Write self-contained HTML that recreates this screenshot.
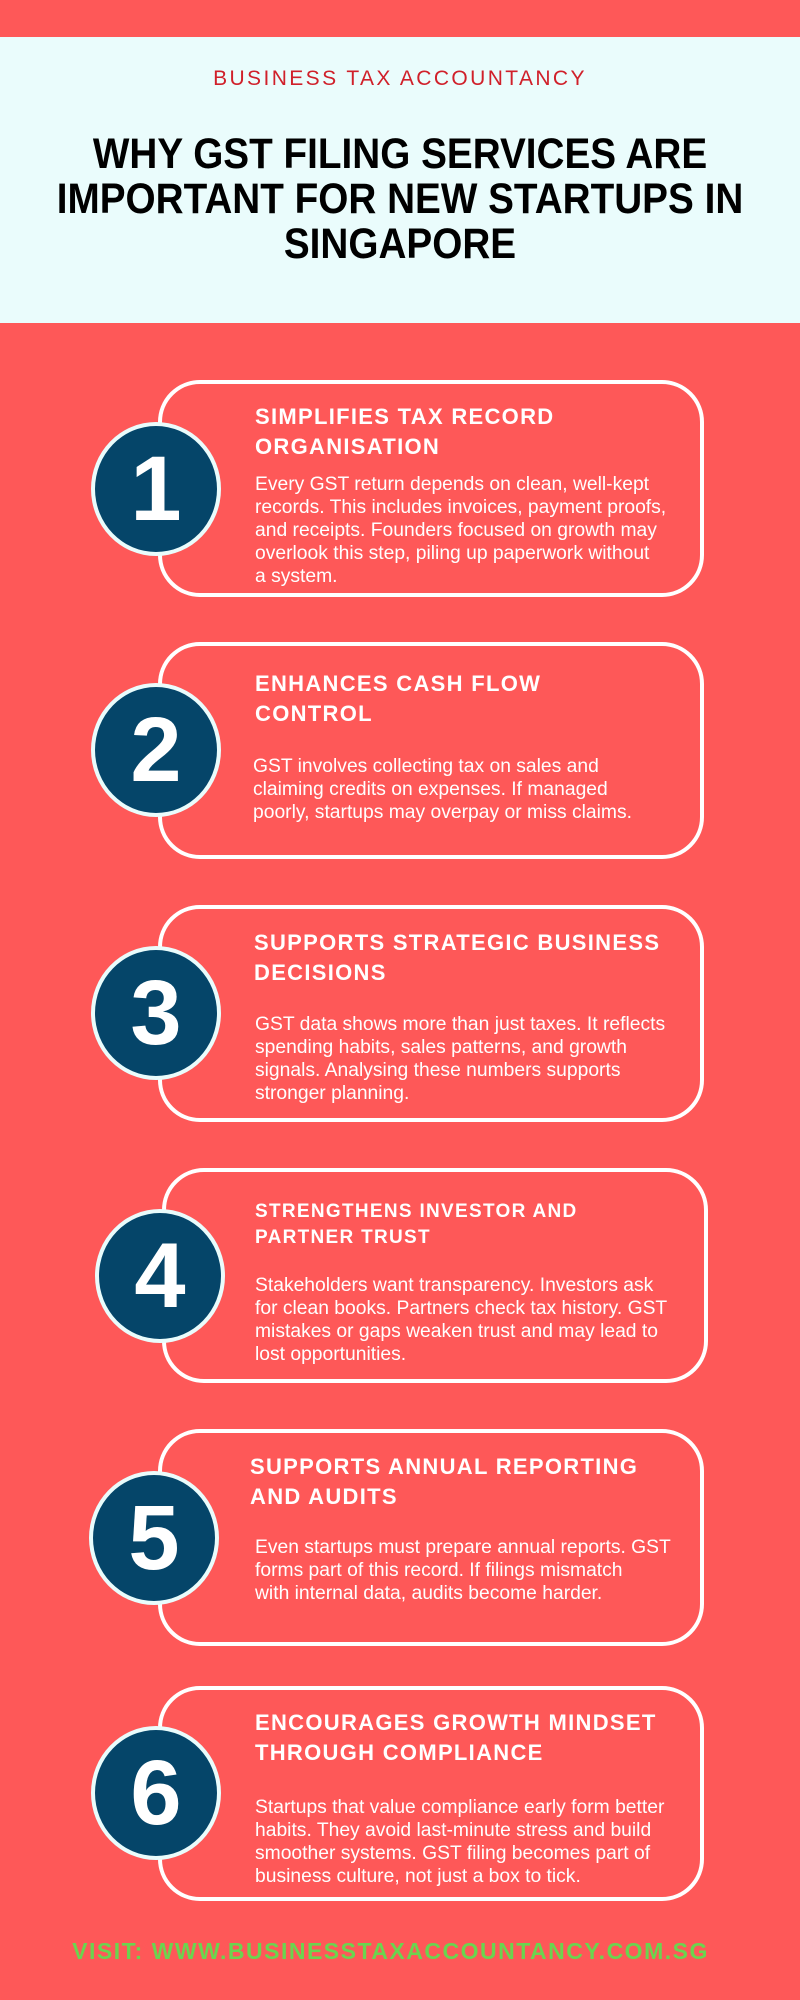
<!DOCTYPE html>
<html><head><meta charset="utf-8"><style>
*{margin:0;padding:0;box-sizing:border-box}
body{width:800px;height:2000px;background:#fe5858;position:relative;overflow:hidden;font-family:"Liberation Sans",sans-serif}
.band{position:absolute;left:0;top:37px;width:800px;height:286px;background:#eafcfc}
.sub{position:absolute;top:66px;left:0;width:800px;text-align:center;color:#d0202a;font-size:21px;letter-spacing:2.4px;line-height:26px}
.title{position:absolute;top:132px;left:0;width:800px;text-align:center;font-weight:bold;font-size:43px;line-height:45px;color:#000;transform:scaleX(0.9);transform-origin:400px 0}
.card{position:absolute;left:158px;width:546px;height:217px;border:4px solid #fff;border-radius:42px}
.circ{position:absolute;width:130px;height:134px;margin-left:-65px;margin-top:-67px;border-radius:50%;background:#054569;border:4px solid #eafcfc;color:#fff;font-size:92px;font-weight:bold;text-align:center;line-height:126px}
.h{position:absolute;left:255px;color:#fff;font-weight:bold;font-size:22px;letter-spacing:1.3px;line-height:30px;white-space:nowrap}
.b{position:absolute;left:255px;color:#fff;font-size:19.3px;line-height:23px;white-space:nowrap}
.foot{position:absolute;top:1937px;left:70px;width:641px;text-align:center;color:#6bd44f;font-weight:bold;font-size:23px;letter-spacing:1.5px;line-height:28px;white-space:nowrap}
</style></head><body>
<div class="band"></div>
<div class="sub">BUSINESS TAX ACCOUNTANCY</div>
<div class="title">WHY GST FILING SERVICES ARE<br>IMPORTANT FOR NEW STARTUPS IN<br>SINGAPORE</div>

<div class="card" style="top:380px"></div>
<div class="circ" style="left:156px;top:489px">1</div>
<div class="h" style="top:402px">SIMPLIFIES TAX RECORD<br>ORGANISATION</div>
<div class="b" style="top:473px">Every GST return depends on clean, well-kept<br>records. This includes invoices, payment proofs,<br>and receipts. Founders focused on growth may<br>overlook this step, piling up paperwork without<br>a system.</div>

<div class="card" style="top:642px"></div>
<div class="circ" style="left:156px;top:750px">2</div>
<div class="h" style="top:669px">ENHANCES CASH FLOW<br>CONTROL</div>
<div class="b" style="top:755px;left:253px">GST involves collecting tax on sales and<br>claiming credits on expenses. If managed<br>poorly, startups may overpay or miss claims.</div>

<div class="card" style="top:905px"></div>
<div class="circ" style="left:156px;top:1013px">3</div>
<div class="h" style="top:928px;left:254px">SUPPORTS STRATEGIC BUSINESS<br>DECISIONS</div>
<div class="b" style="top:1013px">GST data shows more than just taxes. It reflects<br>spending habits, sales patterns, and growth<br>signals. Analysing these numbers supports<br>stronger planning.</div>

<div class="card" style="top:1168px;left:162px;height:215px"></div>
<div class="circ" style="left:160px;top:1276px">4</div>
<div class="h" style="top:1199px;font-size:19px;line-height:26px">STRENGTHENS INVESTOR AND<br>PARTNER TRUST</div>
<div class="b" style="top:1274px">Stakeholders want transparency. Investors ask<br>for clean books. Partners check tax history. GST<br>mistakes or gaps weaken trust and may lead to<br>lost opportunities.</div>

<div class="card" style="top:1429px"></div>
<div class="circ" style="left:154px;top:1538px">5</div>
<div class="h" style="top:1452px;left:250px">SUPPORTS ANNUAL REPORTING<br>AND AUDITS</div>
<div class="b" style="top:1536px">Even startups must prepare annual reports. GST<br>forms part of this record. If filings mismatch<br>with internal data, audits become harder.</div>

<div class="card" style="top:1686px;height:215px"></div>
<div class="circ" style="left:156px;top:1793px">6</div>
<div class="h" style="top:1708px">ENCOURAGES GROWTH MINDSET<br>THROUGH COMPLIANCE</div>
<div class="b" style="top:1796px">Startups that value compliance early form better<br>habits. They avoid last-minute stress and build<br>smoother systems. GST filing becomes part of<br>business culture, not just a box to tick.</div>

<div class="foot">VISIT: WWW.BUSINESSTAXACCOUNTANCY.COM.SG</div>
</body></html>
